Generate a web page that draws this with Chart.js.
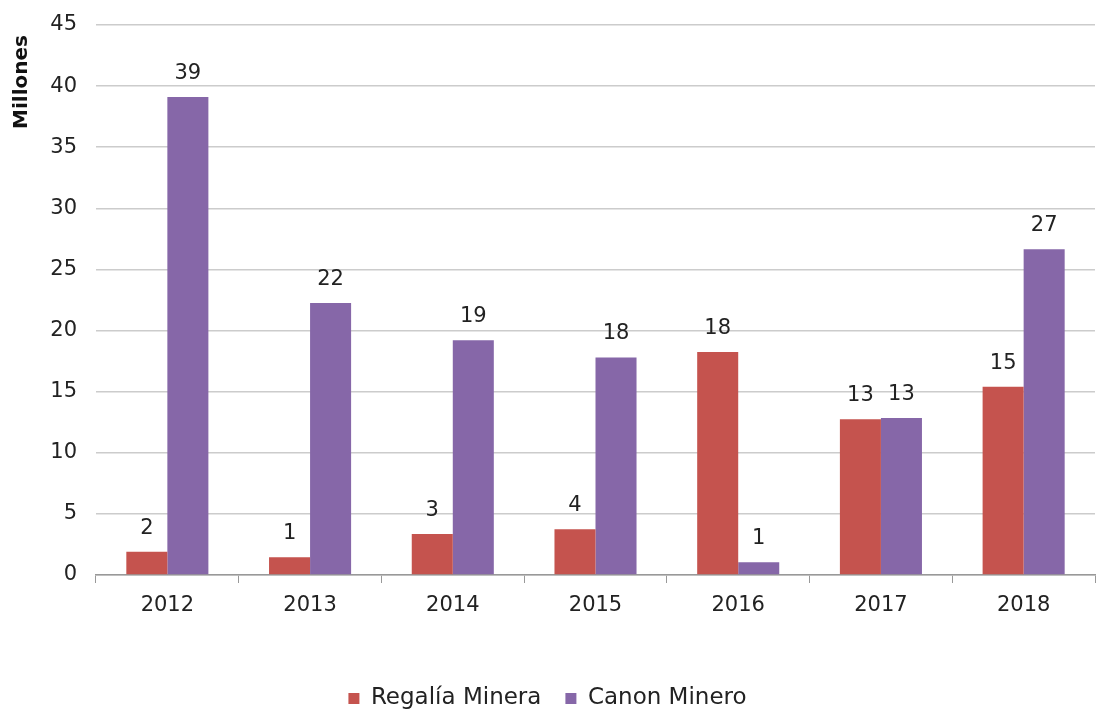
<!DOCTYPE html>
<html>
<head>
<meta charset="utf-8">
<script src="https://cdn.jsdelivr.net/npm/chart.js@4"></script>
<style>
html,body{margin:0;padding:0;background:#fff;}
#wrap{width:1099px;height:713px;}
</style>
</head>
<body>
<div id="wrap"><canvas id="c" width="1099" height="713"></canvas></div>
<script>
const categories = ['2012','2013','2014','2015','2016','2017','2018'];
const regaliaMinera = [1.9, 1.45, 3.35, 3.75, 18.25, 12.75, 15.4];
const canonMinero = [39.1, 22.25, 19.2, 17.8, 1.05, 12.85, 26.65];
const seriesNames = ['Regalía Minera', 'Canon Minero'];
const yTicks = [0,5,10,15,20,25,30,35,40,45];
const yTitle = 'Millones';

const FONT = '"DejaVu Sans", "Noto Sans", sans-serif';

const valueLabels = {
  id: 'valueLabels',
  afterDatasetsDraw(chart) {
    const ctx = chart.ctx;
    ctx.save();
    ctx.font = '21px ' + FONT;
    ctx.fillStyle = '#222';
    ctx.textAlign = 'center';
    ctx.textBaseline = 'bottom';
    chart.data.datasets.forEach((ds, i) => {
      const meta = chart.getDatasetMeta(i);
      meta.data.forEach((bar, j) => {
        ctx.fillText(String(Math.round(ds.data[j])), bar.x, bar.y - 13);
      });
    });
    ctx.restore();
  }
};

const yTitlePlugin = {
  id: 'yTitlePlugin',
  afterDraw(chart) {
    const ctx = chart.ctx;
    ctx.save();
    ctx.translate(22, 82);
    ctx.rotate(-Math.PI / 2);
    ctx.font = 'bold 20px ' + FONT;
    ctx.fillStyle = '#111';
    ctx.textAlign = 'center';
    ctx.textBaseline = 'middle';
    ctx.fillText(yTitle, 0, 0);
    ctx.restore();
  }
};

new Chart(document.getElementById('c'), {
  type: 'bar',
  data: {
    labels: categories,
    datasets: [
      { label: seriesNames[0], data: regaliaMinera, backgroundColor: '#C5534E' },
      { label: seriesNames[1], data: canonMinero, backgroundColor: '#8667A8' }
    ]
  },
  options: {
    responsive: false,
    animation: false,
    devicePixelRatio: 1,
    categoryPercentage: 0.575,
    barPercentage: 1.0,
    layout: { padding: { left: 0, right: 4, top: 25, bottom: -7 } },
    plugins: {
      legend: {
        position: 'bottom',
        labels: {
          font: { family: FONT, size: 23 },
          color: '#222',
          boxWidth: 11,
          boxHeight: 11,
          padding: 24
        }
      },
      tooltip: { enabled: false }
    },
    scales: {
      x: {
        grid: { drawOnChartArea: false, drawTicks: true, tickLength: 8, color: '#999' },
        border: { color: '#999', width: 1.5 },
        ticks: { font: { family: FONT, size: 21 }, color: '#222', padding: 10 },
        afterFit(scale) { scale.height = 88; scale.paddingLeft = 0; scale.paddingRight = 0; }
      },
      y: {
        min: 0, max: 45,
        afterBuildTicks(scale) { scale.ticks = yTicks.map(v => ({ value: v })); },
        grid: { drawTicks: false, color: '#ccc', lineWidth: 1.5 },
        border: { display: false },
        ticks: { font: { family: FONT, size: 21 }, color: '#222', padding: 19 },
        afterFit(scale) { scale.width = 96; scale.paddingTop = 0; scale.paddingBottom = 0; }
      }
    }
  },
  plugins: [valueLabels, yTitlePlugin]
});
</script>
</body>
</html>
